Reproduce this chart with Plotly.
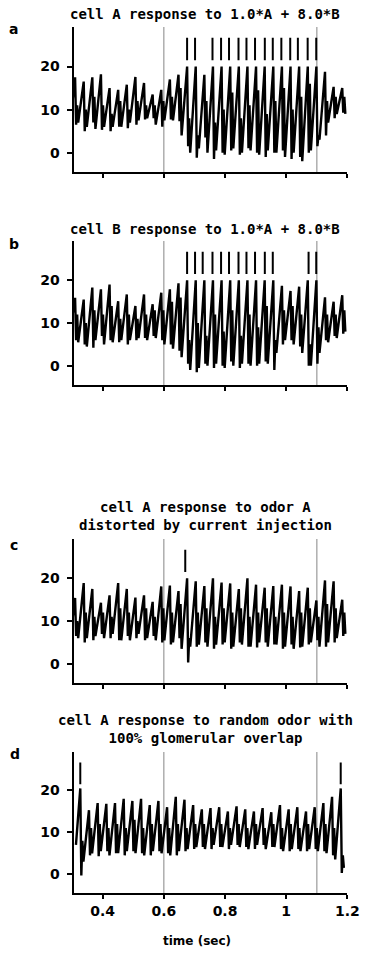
import plotly.graph_objects as go

# ---------------- data ----------------
TIME_RANGE = [0.305, 1.2]
Y_RANGE = [-4.5, 29.2]
X_TICKS = [0.4, 0.6, 0.8, 1.0, 1.2]
X_TICK_TEXT = ["0.4", "0.6", "0.8", "1", "1.2"]
Y_TICKS = [0, 10, 20]
STIM_LINES = [0.6, 1.1]
RASTER_LOW, RASTER_HIGH = 21.5, 26.7

# oscillation cycle timing (first main peak, period in s)
CYC_ABC = (0.310, 0.02816)
CYC_D = (0.327, 0.02837)

# panel a: cell A response to 1.0*A + 8.0*B
a_start = 8.0
a_peak = [17.5, 16.5, 17.5, 18.2, 15.0, 14.6, 15.8, 17.6, 16.2, 13.5, 14.6, 17.0,
          18.1, 20, 20, 18.1, 20, 20, 20, 20, 20, 20, 20, 20, 20, 20, 20, 20, 20,
          18.8, 15.3, 15.0]
a_dip = [6.5, 5.0, 7.0, 5.3, 5.0, 6.0, 5.7, 6.5, 7.7, 8.0, 6.0, 7.7,
         7.3, 1.5, -1.2, 3.5, -1.5, 0.0, 0.5, -0.5, 1.0, 0.0, -1.0, 0.0, 0.5, -1.5,
         -1.0, 0.0, 1.5, 4.0, 8.0, 9.3]
a_hump = [11, 10, 13, 11, 9, 12, 10, 12, 11, 11, 12, 13,
          15, 8, 4, 12, 7, 10, 14, 8, 11, 14.5, 9, 12, 15, 10, 13, 16, 4,
          12, 13, 13]
a_base = [7.0, 6.0, 5.5, 6.0, 6.0, 6.0, 7.0, 7.5, 8.0, 6.5, 7.5, 7.5,
          4.0, 0.0, 1.0, 0.0, 0.5, -0.5, 1.0, 0.0, 0.5, -0.5, 0.5, 0.0, -1.0, 0.0,
          -2.0, 0.5, 3.0, 7.0, 9.0, 9.0]
a_spikes = [0.676, 0.702, 0.759, 0.787, 0.813, 0.844, 0.870, 0.898, 0.930,
            0.956, 0.984, 1.013, 1.038, 1.070, 1.098]

# panel b: cell B response to 1.0*A + 8.0*B
b_start = 9.0
b_peak = [15.9, 15.5, 18.3, 17.9, 19.0, 15.1, 16.7, 14.0, 16.7, 14.4, 17.1, 17.9,
          19.3, 20, 20, 20, 20, 20, 20, 20, 20, 20, 20, 20,
          18.7, 17.5, 18.5, 20, 20, 16.0, 15.0, 16.5]
b_dip = [6.0, 5.0, 4.2, 7.0, 6.0, 5.5, 5.0, 6.0, 6.5, 7.0, 6.0, 5.0,
         3.5, 0.5, -1.5, 0.5, -0.5, 0.0, 1.0, -0.5, 0.5, 0.0, 1.0, -1.0,
         5.0, 6.0, 4.5, 0.0, 0.5, 6.0, 7.0, 7.5]
b_hump = [12, 10, 13, 12, 14, 11, 12, 11, 12, 13, 13, 15,
          16, 6, 10, 7, 12, 8, 13, 7, 12, 9, 14, 6,
          13, 14, 12, 5, 9, 12, 12, 13]
b_base = [5.5, 4.5, 6.0, 5.0, 5.5, 6.0, 6.0, 6.5, 6.0, 6.5, 5.0, 4.0,
          2.0, -1.0, -0.5, 0.0, 0.5, -0.5, 0.0, 0.5, 0.0, 0.5, 0.5, 3.0,
          6.0, 5.0, 3.0, 0.0, 3.0, 5.5, 6.5, 8.0]
b_spikes = [0.676, 0.702, 0.727, 0.759, 0.787, 0.813, 0.844, 0.870, 0.898,
            0.930, 0.956, 1.073, 1.098]

# panel c: cell A response to odor A distorted by current injection
c_start = 7.0
c_peak = [15.4, 18.9, 17.5, 14.3, 16.0, 18.9, 17.5, 15.5, 16.0, 14.5, 18.1, 18.3,
          17.0, 20.0, 19.3, 18.2, 20.0, 19.0, 18.8, 17.5, 20.0, 18.5, 17.8, 18.2,
          18.5, 18.1, 17.0, 17.8, 14.8, 19.5, 19.3, 15.0]
c_dip = [6.5, 5.0, 5.5, 7.0, 6.0, 5.5, 6.5, 6.0, 5.5, 6.5, 5.0, 4.5,
         6.0, 0.3, 4.0, 5.0, 3.5, 4.5, 3.5, 5.0, 4.0, 3.8, 5.0, 4.5,
         3.5, 4.5, 3.8, 4.5, 5.5, 4.0, 5.0, 6.5]
c_hump = [10, 12, 11, 12, 11, 13, 12, 10, 13, 11, 13, 12,
          14, 6, 12, 13, 11, 13, 12, 13, 11, 12, 13, 11,
          12, 11, 12, 13, 11, 14, 13, 12]
c_base = [6.0, 6.0, 6.5, 6.0, 7.0, 5.5, 5.5, 7.0, 6.0, 5.5, 5.5, 5.0,
          3.5, 4.0, 4.5, 4.0, 4.5, 5.0, 4.0, 4.5, 4.0, 5.0, 4.0, 4.5,
          4.0, 3.5, 4.0, 5.0, 4.0, 5.0, 6.0, 7.0]
c_spikes = [0.670]

# panel d: cell A response to random odor with 100% glomerular overlap
d_start = 7.0
d_peak = [20.5, 15.3, 17.0, 16.8, 17.0, 18.0, 17.5, 18.0, 16.5, 17.5, 16.0, 18.5,
          17.8, 16.5, 15.5, 15.8, 16.0, 15.0, 16.2, 15.5, 15.0, 15.8, 14.8, 16.5,
          15.5, 16.0, 15.0, 16.0, 17.0, 18.5, 20.5]
d_dip = [-0.3, 4.5, 4.3, 5.5, 5.0, 4.5, 5.5, 5.0, 4.5, 5.5, 5.0, 4.5,
         5.5, 6.0, 6.5, 6.0, 6.5, 6.0, 7.0, 6.5, 6.0, 7.0, 6.5, 6.0,
         5.5, 6.0, 5.5, 6.0, 5.5, 4.5, 0.3]
d_hump = [8, 11, 12, 11, 12, 11, 13, 11, 12, 12, 11, 12,
          11, 12, 12, 11, 12, 11, 12, 11, 12, 11, 12, 11,
          12, 11, 12, 11, 12, 11, 4.5]
d_base = [3.0, 5.0, 5.5, 4.5, 5.0, 5.5, 5.0, 4.5, 5.5, 5.0, 4.5, 5.5,
          6.0, 6.5, 6.0, 7.0, 6.5, 7.0, 6.5, 6.0, 7.0, 6.0, 6.5, 5.5,
          6.0, 5.5, 6.0, 5.5, 5.0, 3.5, 1.5]
d_spikes = [0.327, 1.178]

PANEL_LETTERS = ["a", "b", "c", "d"]
TITLES = ["cell A response to 1.0*A + 8.0*B",
          "cell B response to 1.0*A + 8.0*B",
          "cell A response to odor A<br>distorted by current injection",
          "cell A response to random odor with<br>100% glomerular overlap"]
X_TITLE = "time (sec)"

# ---------------- layout geometry (pixels) ----------------
W, H = 373, 953
PLOT_LEFT, PLOT_RIGHT = 76, 359
PANEL_PX = [(27, 172), (241, 385), (539, 683), (752, 893)]  # (top, bottom)
TITLE_Y = [14, 229, 516, 729]
LETTER_POS = [(14, 29), (14, 244), (14, 545), (15, 754)]

FONT = "DejaVu Sans"
TITLE_FONT = "DejaVu Sans Mono"

# phase of each vertex within a cycle (peak, dip, hump, base);
# the slow ramp from base to the next peak fills the rest of the cycle
PHASES = (0.0, 0.12, 0.24, 0.36)


def build_trace(cyc, start, peak, dip, hump, base):
    t0, T = cyc
    xs, ys = [t0 - 0.5 * T], [start]
    for k in range(len(peak)):
        tk = t0 + k * T
        xs += [tk + p * T for p in PHASES]
        ys += [peak[k], dip[k], hump[k], base[k]]
    return xs, ys


def raster(times):
    xs, ys = [], []
    for t in times:
        xs += [t, t, None]
        ys += [RASTER_LOW, RASTER_HIGH, None]
    return xs, ys


panels = [
    (CYC_ABC, a_start, a_peak, a_dip, a_hump, a_base, a_spikes),
    (CYC_ABC, b_start, b_peak, b_dip, b_hump, b_base, b_spikes),
    (CYC_ABC, c_start, c_peak, c_dip, c_hump, c_base, c_spikes),
    (CYC_D, d_start, d_peak, d_dip, d_hump, d_base, d_spikes),
]

fig = go.Figure()
layout = dict(
    width=W, height=H,
    margin=dict(l=0, r=0, t=0, b=0),
    paper_bgcolor="white", plot_bgcolor="white",
    showlegend=False,
    font=dict(family=FONT, color="black"),
)
shapes = []
annotations = []

xdom = [PLOT_LEFT / W, PLOT_RIGHT / W]
for i, (cyc, st, pk, dp, hm, bs, sp) in enumerate(panels):
    n = i + 1
    xa = "x" if n == 1 else f"x{n}"
    ya = "y" if n == 1 else f"y{n}"
    top, bot = PANEL_PX[i]
    xs, ys = build_trace(cyc, st, pk, dp, hm, bs)
    fig.add_trace(go.Scatter(x=xs, y=ys, mode="lines", xaxis=xa, yaxis=ya,
                             line=dict(color="black", width=2.4), hoverinfo="skip"))
    rx, ry = raster(sp)
    fig.add_trace(go.Scatter(x=rx, y=ry, mode="lines", xaxis=xa, yaxis=ya,
                             line=dict(color="black", width=2), hoverinfo="skip"))
    last = (i == 3)
    layout["xaxis" if n == 1 else f"xaxis{n}"] = dict(
        domain=xdom, anchor=ya, range=TIME_RANGE,
        tickmode="array", tickvals=X_TICKS, ticktext=X_TICK_TEXT,
        showticklabels=last, ticks="outside", ticklen=4, tickwidth=1.5,
        tickcolor="black", showline=True, linecolor="black", linewidth=2,
        showgrid=False, zeroline=False,
        tickfont=dict(family=FONT, size=14, weight="bold", color="black"),
        title=dict(text=""),
    )
    layout["yaxis" if n == 1 else f"yaxis{n}"] = dict(
        domain=[1 - bot / H, 1 - top / H], anchor=xa, range=Y_RANGE,
        tickmode="array", tickvals=Y_TICKS,
        ticks="outside", ticklen=5, tickwidth=1.5, tickcolor="black",
        showline=True, linecolor="black", linewidth=2,
        showgrid=False, zeroline=False, ticklabelstandoff=4,
        tickfont=dict(family=FONT, size=14, weight="bold", color="black"),
    )
    for t in STIM_LINES:
        shapes.append(dict(type="line", xref=xa, yref=f"{ya} domain",
                           x0=t, x1=t, y0=0, y1=1,
                           line=dict(color="#9a9a9a", width=1.2), layer="below"))
    annotations.append(dict(text=TITLES[i], xref="paper", yref="paper",
                            x=212 / W, y=1 - TITLE_Y[i] / H, showarrow=False,
                            xanchor="center", yanchor="middle",
                            font=dict(family=TITLE_FONT, size=14, weight="bold", color="black")))
    lx, ly = LETTER_POS[i]
    annotations.append(dict(text=PANEL_LETTERS[i], xref="paper", yref="paper",
                            x=lx / W, y=1 - ly / H, showarrow=False,
                            xanchor="center", yanchor="middle",
                            font=dict(family=FONT, size=14, weight="bold", color="black")))

annotations.append(dict(text=X_TITLE, xref="paper", yref="paper",
                        x=204 / W, y=1 - 941 / H, showarrow=False,
                        xanchor="center", yanchor="middle",
                        font=dict(family=FONT, size=12, weight="bold", color="black")))

layout["shapes"] = shapes
layout["annotations"] = annotations
fig.update_layout(**layout)
fig.write_html("out.html")
